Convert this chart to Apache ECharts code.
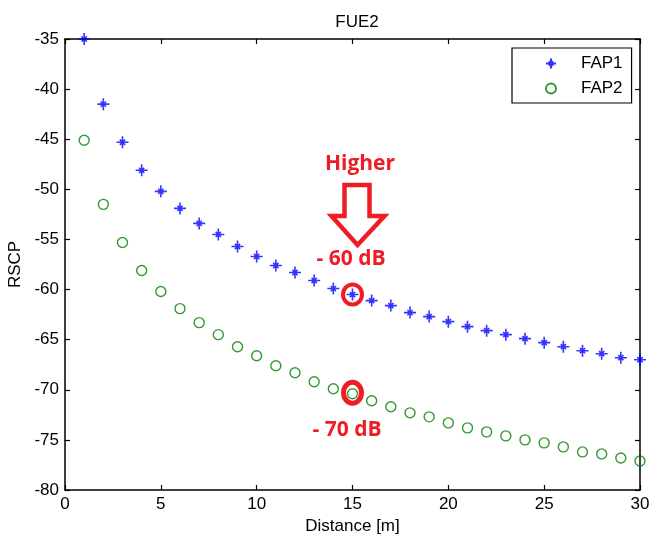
<!DOCTYPE html>
<html>
<head>
<meta charset="utf-8">
<script src="https://cdn.jsdelivr.net/npm/echarts@6/dist/echarts.min.js"></script>
<style>
  html, body { margin: 0; padding: 0; background: #fff; }
  #chart { width: 651px; height: 541px; }
</style>
</head>
<body>
<div id="chart"></div>
<script>
const distance = [1,2,3,4,5,6,7,8,9,10,11,12,13,14,15,16,17,18,19,20,21,22,23,24,25,26,27,28,29,30];
const fap1 = [-35.0,-41.5,-45.3,-48.1,-50.2,-51.9,-53.4,-54.5,-55.7,-56.7,-57.6,-58.3,-59.1,-59.9,-60.5,-61.1,-61.6,-62.3,-62.7,-63.2,-63.7,-64.1,-64.5,-64.9,-65.3,-65.7,-66.1,-66.4,-66.8,-67.0];
const fap2 = [-45.1,-51.5,-55.3,-58.1,-60.2,-61.9,-63.3,-64.5,-65.7,-66.6,-67.6,-68.3,-69.2,-69.9,-70.4,-71.1,-71.7,-72.3,-72.7,-73.3,-73.8,-74.2,-74.6,-75.0,-75.3,-75.7,-76.2,-76.4,-76.8,-77.1];
const seriesNames = ['FAP1', 'FAP2'];
const xRange = [0, 30, 5];
const yRange = [-80, -35, 5];
const annotationTexts = ['Higher', '- 60 dB', '- 70 dB'];
const highlightIndex = 14; // distance 15

const FONT = '"Liberation Sans", Arial, sans-serif';
const RED = '#ee1c25';
const star = 'path://M0,6 L12,6 M6,0 L6,12 M3.4,3.4 L8.6,8.6 M8.6,3.4 L3.4,8.6';

const chart = echarts.init(document.getElementById('chart'), null, { renderer: 'canvas' });

const axisCommon = {
  type: 'value',
  splitLine: { show: false },
  axisLine: { show: true, onZero: false, lineStyle: { color: '#000', width: 1.5 } },
  axisTick: { show: true, inside: true, length: 5, lineStyle: { color: '#000', width: 1.2 } },
  axisLabel: { color: '#000', fontFamily: FONT, fontSize: 17, margin: 6 },
  nameTextStyle: { color: '#000', fontFamily: FONT, fontSize: 17 }
};

const option = {
  backgroundColor: '#fff',
  animation: false,
  title: {
    text: 'FUE2',
    left: 352, top: 9, textAlign: 'center',
    textStyle: { fontFamily: FONT, fontSize: 17, fontWeight: 'normal', color: '#000' }
  },
  legend: {
    orient: 'vertical',
    left: 512, top: 48,
    padding: [7, 9, 6, 33],
    itemGap: 8,
    itemWidth: 10, itemHeight: 10,
    borderColor: '#000', borderWidth: 1.2,
    backgroundColor: '#fff',
    textStyle: { fontFamily: FONT, fontSize: 17, color: '#000', lineHeight: 17, padding: [0, 0, 0, 20] },
    data: seriesNames
  },
  grid: {
    left: 65, right: 11, top: 39, bottom: 51,
    containLabel: false, outerBoundsMode: 'none',
    show: false
  },
  xAxis: [
    Object.assign({}, axisCommon, {
      min: xRange[0], max: xRange[1], interval: xRange[2], position: 'bottom',
      name: 'Distance [m]', nameLocation: 'middle', nameGap: 26
    }),
    Object.assign({}, axisCommon, {
      min: xRange[0], max: xRange[1], interval: xRange[2], position: 'top',
      axisLabel: { show: false }
    })
  ],
  yAxis: [
    Object.assign({}, axisCommon, {
      min: yRange[0], max: yRange[1], interval: yRange[2], position: 'left',
      name: 'RSCP', nameLocation: 'middle', nameGap: 37
    }),
    Object.assign({}, axisCommon, {
      min: yRange[0], max: yRange[1], interval: yRange[2], position: 'right',
      axisLabel: { show: false }
    })
  ],
  series: [
    {
      name: seriesNames[0], type: 'scatter', clip: false,
      symbol: star, symbolSize: 12,
      itemStyle: { color: 'rgba(0,0,0,0)', borderColor: '#0000ff', borderWidth: 1.6 },
      data: distance.map((d, i) => [d, fap1[i]]),
      z: 3
    },
    {
      name: seriesNames[1], type: 'scatter', clip: false,
      symbol: 'circle', symbolSize: 10,
      itemStyle: { color: 'rgba(0,0,0,0)', borderColor: '#008000', borderWidth: 1.4 },
      data: distance.map((d, i) => [d, fap2[i]]),
      z: 3
    }
  ]
};

chart.setOption(option);

// Annotations positioned from data coordinates
const p1 = chart.convertToPixel({ gridIndex: 0 }, [distance[highlightIndex], fap1[highlightIndex]]);
const p2 = chart.convertToPixel({ gridIndex: 0 }, [distance[highlightIndex], fap2[highlightIndex]]);
const ax = p1[0] + 5; // arrow centre x
chart.setOption({
  graphic: [
    { type: 'ellipse', shape: { cx: p1[0], cy: p1[1], rx: 9.5, ry: 10 }, style: { fill: 'none', stroke: RED, lineWidth: 4 }, z: 10 },
    { type: 'ellipse', shape: { cx: p2[0], cy: p2[1] - 1, rx: 9, ry: 10.5 }, style: { fill: 'none', stroke: RED, lineWidth: 5 }, z: 10 },
    {
      type: 'polygon',
      shape: { points: [[ax - 13, 185], [ax + 12, 185], [ax + 12, 216], [ax + 27, 216], [ax, 245], [ax - 26, 216], [ax - 13, 216]] },
      style: { fill: '#fff', stroke: RED, lineWidth: 4.5, lineJoin: 'miter' }, z: 10
    },
    { type: 'text', x: 360, y: 164, style: { text: annotationTexts[0], fill: RED, font: 'bold 21px "Open Sans", sans-serif', textAlign: 'center', textVerticalAlign: 'middle' }, z: 11 },
    { type: 'text', x: 351, y: 259, style: { text: annotationTexts[1], fill: RED, font: 'bold 21px "Open Sans", sans-serif', textAlign: 'center', textVerticalAlign: 'middle' }, z: 11 },
    { type: 'text', x: 347, y: 430, style: { text: annotationTexts[2], fill: RED, font: 'bold 21px "Open Sans", sans-serif', textAlign: 'center', textVerticalAlign: 'middle' }, z: 11 }
  ]
});
</script>
</body>
</html>
